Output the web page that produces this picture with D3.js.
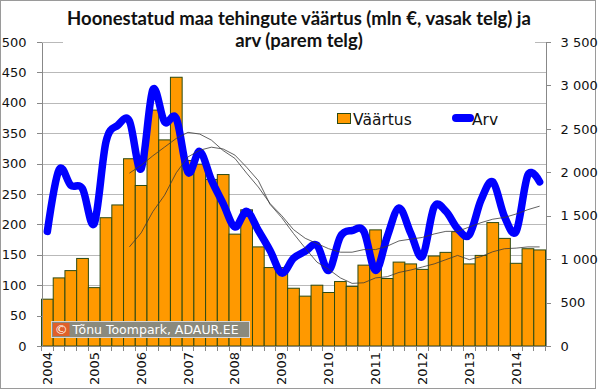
<!DOCTYPE html>
<meta charset="utf-8">
<script src="https://d3js.org/d3.v7.min.js"></script>
<style>
  body { margin: 0; background: #fff; }
  svg text { font-family: "DejaVu Sans", sans-serif; fill: #111; }
  .title { font-family: Lato, sans-serif; font-weight: bold; font-size: 18.5px; }
  .grid line { stroke: #b9b9b9; shape-rendering: crispEdges; }
  .axis path, .axis line { stroke: #888; shape-rendering: crispEdges; }
</style>
<body>
<div id="chart"></div>
<script>

// quarters 2004 Q1 .. 2014 Q3
var quarters = ["2004Q1","2004Q2","2004Q3","2004Q4","2005Q1","2005Q2","2005Q3","2005Q4",
  "2006Q1","2006Q2","2006Q3","2006Q4","2007Q1","2007Q2","2007Q3","2007Q4",
  "2008Q1","2008Q2","2008Q3","2008Q4","2009Q1","2009Q2","2009Q3","2009Q4",
  "2010Q1","2010Q2","2010Q3","2010Q4","2011Q1","2011Q2","2011Q3","2011Q4",
  "2012Q1","2012Q2","2012Q3","2012Q4","2013Q1","2013Q2","2013Q3","2013Q4",
  "2014Q1","2014Q2","2014Q3"];

// Väärtus, mln € (left axis)
var vaartus = [77,112,124,144,96,211,232,308,264,388,339,442,305,299,274,282,
  184,224,163,129,129,95,82,100,88,106,98,133,191,111,138,135,126,148,154,188,
  135,149,203,177,136,160,158];

// Arv, tehingute arv (right axis)
var arv = [1320,2030,1850,1810,1410,2350,2540,2590,2040,2950,2580,2620,2000,2240,
  1910,1640,1370,1550,1330,1100,840,1010,1090,1160,870,1260,1330,1320,870,1260,
  1590,1300,1030,1600,1550,1350,1280,1680,1890,1490,1320,1970,1890];

// thin trend lines (8 quarter moving averages), starting 2005Q4
var maVaartus = [163,186,221,248,285,311,322,327,324,314,294,272,233,211,185,161,
  138,126,112,103,104,112,114,121,125,130,135,142,149,142,147,155,160,161,163,163];
var maArv = [1990,2080,2190,2290,2390,2460,2440,2370,2250,2160,1990,1830,1640,1500,
  1340,1240,1180,1120,1080,1080,1110,1110,1150,1210,1230,1250,1290,1320,1320,1370,
  1420,1460,1480,1520,1570,1610];

var leftTicks = [0,50,100,150,200,250,300,350,400,450,500];
var rightTicks = [0,500,1000,1500,2000,2500,3000,3500];
var yearLabels = ["2004","2005","2006","2007","2008","2009","2010","2011","2012","2013","2014"];

var titleLines = ["Hoonestatud maa tehingute väärtus (mln €, vasak telg) ja", "arv (parem telg)"];

var width = 600, height = 391;
var plot = {left: 41.5, right: 545.5, top: 42, bottom: 346};

var svg = d3.select("#chart").append("svg")
  .attr("width", width)
  .attr("height", height);

// chart border
svg.append("rect")
  .attr("x", 0.5).attr("y", 0.5)
  .attr("width", 595).attr("height", 388)
  .attr("fill", "#fff")
  .attr("stroke", "#9a9a9a");

var x = d3.scaleBand()
  .domain(quarters)
  .range([plot.left, plot.right])
  .padding(0);

var yL = d3.scaleLinear().domain([0, 500]).range([plot.bottom, plot.top]);
var yR = d3.scaleLinear().domain([0, 3500]).range([plot.bottom, plot.top]);

// gridlines
svg.append("g").attr("class", "grid")
  .selectAll("line")
  .data(leftTicks.filter(function(d) { return d > 0; }))
  .enter().append("line")
    .attr("x1", plot.left).attr("x2", plot.right)
    .attr("y1", function(d) { return Math.round(yL(d)) + 0.5; })
    .attr("y2", function(d) { return Math.round(yL(d)) + 0.5; });

// bars
svg.append("g")
  .selectAll("rect")
  .data(vaartus)
  .enter().append("rect")
    .attr("x", function(d, i) { return x(quarters[i]); })
    .attr("width", x.bandwidth())
    .attr("y", function(d) { return yL(d); })
    .attr("height", function(d) { return yL(0) - yL(d); })
    .attr("fill", "#ff9900")
    .attr("stroke", "#2c4a12")
    .attr("stroke-width", 1);

// left axis
var axL = svg.append("g").attr("class", "axis")
  .attr("transform", "translate(" + plot.left + ",0)")
  .call(d3.axisLeft(yL).tickValues(leftTicks).tickSize(5).tickPadding(10).tickSizeOuter(0));
axL.selectAll("text").style("font-size", "13px").attr("fill", "#111");

// right axis
var fmt = function(d) { return d3.format(",")(d).replace(",", " "); };
var axR = svg.append("g").attr("class", "axis")
  .attr("transform", "translate(" + plot.right + ",0)")
  .call(d3.axisRight(yR).tickValues(rightTicks).tickFormat(fmt).tickSize(5).tickPadding(10).tickSizeOuter(0));
axR.selectAll("text").style("font-size", "13px").attr("fill", "#111");

// bottom axis: ticks at bar boundaries, year labels at Q1
var xa = svg.append("g").attr("class", "axis");
xa.append("line")
  .attr("x1", plot.left).attr("x2", plot.right)
  .attr("y1", plot.bottom + 0.5).attr("y2", plot.bottom + 0.5);
xa.selectAll(".qt")
  .data(quarters.concat(["end"]))
  .enter().append("line")
    .attr("class", "qt")
    .attr("x1", function(d) { return d === "end" ? plot.right : x(d); })
    .attr("x2", function(d) { return d === "end" ? plot.right : x(d); })
    .attr("y1", plot.bottom).attr("y2", plot.bottom + 5);
xa.selectAll(".yl")
  .data(yearLabels)
  .enter().append("text")
    .attr("class", "yl")
    .attr("transform", function(d) {
      return "translate(" + (x(d + "Q1") + x.bandwidth() / 2) + "," + (plot.bottom + 6) + ") rotate(-90)";
    })
    .attr("text-anchor", "end")
    .attr("dy", "0.35em")
    .style("font-size", "13px")
    .text(function(d) { return d; });

// blue line, right axis
var lineR = d3.line()
  .x(function(d, i) { return x(quarters[i]) + x.bandwidth() / 2; })
  .y(function(d) { return yR(d); })
  .curve(d3.curveCatmullRom.alpha(0));

svg.append("path")
  .datum(arv)
  .attr("d", lineR)
  .attr("fill", "none")
  .attr("stroke", "#0000ff")
  .attr("stroke-width", 7.5)
  .attr("stroke-linecap", "round")
  .attr("stroke-linejoin", "round");

// trend lines
var off = quarters.length - maVaartus.length;
var maLine = function(scale) {
  return d3.line()
    .x(function(d, i) { return x(quarters[i + off]) + x.bandwidth() / 2; })
    .y(function(d) { return scale(d); });
};
svg.append("path").datum(maVaartus)
  .attr("d", maLine(yL))
  .attr("fill", "none").attr("stroke", "#3a3a3a").attr("stroke-width", 0.8);
svg.append("path").datum(maArv)
  .attr("d", maLine(yR))
  .attr("fill", "none").attr("stroke", "#3a3a3a").attr("stroke-width", 0.8);

// title (white box covers top gridline)
svg.append("rect")
  .attr("x", 63).attr("y", 3).attr("width", 472).attr("height", 52)
  .attr("fill", "#fff");
svg.selectAll(".title")
  .data(titleLines)
  .enter().append("text")
    .attr("class", "title")
    .attr("x", 299)
    .attr("y", function(d, i) { return 25 + i * 22; })
    .attr("text-anchor", "middle")
    .attr("fill", "#000")
    .text(function(d) { return d; });

// legend
var lg = svg.append("g");
lg.append("rect")
  .attr("x", 337.5).attr("y", 113.5).attr("width", 13).attr("height", 10)
  .attr("fill", "#ff9900").attr("stroke", "#2c4a12");
lg.append("text")
  .attr("x", 353).attr("y", 124.5)
  .style("font-size", "15.5px")
  .text("Väärtus");
lg.append("line")
  .attr("x1", 456).attr("x2", 470).attr("y1", 118).attr("y2", 118)
  .attr("stroke", "#0000ff").attr("stroke-width", 8).attr("stroke-linecap", "round");
lg.append("text")
  .attr("x", 472).attr("y", 124.5)
  .style("font-size", "15.5px")
  .text("Arv");

// watermark
var wm = svg.append("g");
wm.append("rect")
  .attr("x", 51.5).attr("y", 321.5).attr("width", 198).attr("height", 16)
  .attr("fill", "#8a8a7e").attr("stroke", "#d6d6d6");
wm.append("rect")
  .attr("x", 53).attr("y", 323).attr("width", 16.5).attr("height", 13)
  .attr("fill", "#e0602a");
wm.append("text")
  .attr("x", 61.2).attr("y", 334)
  .attr("text-anchor", "middle")
  .style("fill", "#fff")
  .style("font-size", "13px")
  .text("©");
wm.append("text")
  .attr("x", 72.5).attr("y", 334)
  .style("fill", "#fff")
  .style("font-size", "12.5px")
  .text("Tõnu Toompark, ADAUR.EE");

</script>
</body>
